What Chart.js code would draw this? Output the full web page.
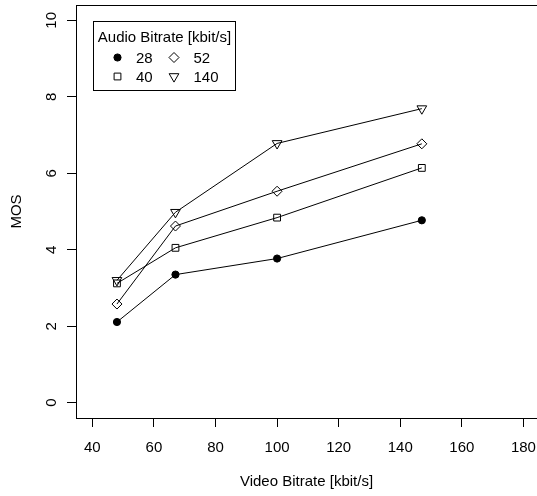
<!DOCTYPE html>
<html>
<head>
<meta charset="utf-8">
<script src="https://cdn.jsdelivr.net/npm/chart.js@4/dist/chart.umd.min.js"></script>
<style>
  html, body { margin: 0; padding: 0; background: #fff; overflow: hidden; }
  #c { display: block; }
</style>
</head>
<body>
<canvas id="c" width="537" height="496"></canvas>
<script>
// ---- data ----
const videoBitrate = [48, 67, 100, 147];
const mos28  = [2.11, 3.35, 3.77, 4.77];
const mos40  = [3.12, 4.05, 4.84, 6.14];
const mos52  = [2.58, 4.62, 5.53, 6.77];
const mos140 = [3.20, 4.98, 6.78, 7.69];
const audioLabels = ['28', '40', '52', '140'];
const xTickValues = [40, 60, 80, 100, 120, 140, 160, 180];
const yTickValues = [0, 2, 4, 6, 8, 10];
const legendTitle = 'Audio Bitrate [kbit/s]';
const xTitle = 'Video Bitrate [kbit/s]';
const yTitle = 'MOS';

const FONT = '"Liberation Sans", Arial, Helvetica, sans-serif';
const seriesValues = [mos28, mos40, mos52, mos140];
const styles = [
  { pointStyle: 'circle',  radius: 3.6, rotation: 0,   fill: '#000' },
  { pointStyle: 'rect',    radius: 4.8, rotation: 0,   fill: 'rgba(0,0,0,0)' },
  { pointStyle: 'rectRot', radius: 5.0, rotation: 0,   fill: 'rgba(0,0,0,0)' },
  { pointStyle: 'triangle',radius: 5.6, rotation: 180, fill: 'rgba(0,0,0,0)' }
];

const datasets = seriesValues.map((vals, i) => ({
  label: audioLabels[i],
  data: vals.map((v, j) => ({ x: videoBitrate[j], y: v })),
  borderColor: '#000',
  borderWidth: 1,
  tension: 0,
  pointStyle: styles[i].pointStyle,
  pointRadius: styles[i].radius,
  pointRotation: styles[i].rotation,
  pointBackgroundColor: styles[i].fill,
  pointBorderColor: '#000',
  pointBorderWidth: 1,
  fill: false,
  clip: false
}));

function drawMarker(ctx, st, x, y) {
  ctx.save();
  ctx.fillStyle = st.fill;
  ctx.strokeStyle = '#000';
  ctx.lineWidth = 1;
  if (Chart.helpers && Chart.helpers.drawPoint) {
    Chart.helpers.drawPoint(ctx, { pointStyle: st.pointStyle, radius: st.radius, rotation: st.rotation, borderWidth: 1 }, x, y);
  }
  ctx.restore();
}

const framePlugin = {
  id: 'frameTop',
  afterDraw(chart) {
    const { ctx, chartArea } = chart;
    ctx.save();
    ctx.strokeStyle = '#000';
    ctx.lineWidth = 1;
    const y = Math.round(chartArea.top) + 0.5;
    ctx.beginPath();
    ctx.moveTo(Math.round(chartArea.left) + 0.5, y);
    ctx.lineTo(chartArea.right + 2, y);
    ctx.stroke();
    ctx.restore();
  }
};

const legendPlugin = {
  id: 'rLegend',
  afterDraw(chart) {
    const { ctx, chartArea } = chart;
    const x0 = Math.round(chartArea.left + 16.5) + 0.5;
    const y0 = Math.round(chartArea.top + 16) + 0.5;
    const w = 142, h = 69;
    ctx.save();
    ctx.fillStyle = '#fff';
    ctx.fillRect(x0, y0, w, h);
    ctx.strokeStyle = '#000';
    ctx.lineWidth = 1;
    ctx.strokeRect(x0, y0, w, h);
    ctx.fillStyle = '#000';
    ctx.font = '15px ' + FONT;
    ctx.textAlign = 'center';
    ctx.textBaseline = 'middle';
    ctx.fillText(legendTitle, x0 + w / 2, y0 + 16);
    ctx.textAlign = 'left';
    const colMarker = [24, 80.5];
    const colText = [42.5, 100];
    const rowY = [36, 55];
    chart.data.datasets.forEach((ds, i) => {
      const col = Math.floor(i / 2), row = i % 2;
      drawMarker(ctx, styles[i], x0 + colMarker[col], y0 + rowY[row]);
      ctx.fillStyle = '#000';
      ctx.fillText(ds.label, x0 + colText[col], y0 + rowY[row] + 1);
    });
    ctx.restore();
  }
};

new Chart(document.getElementById('c'), {
  type: 'line',
  data: { datasets },
  options: {
    responsive: false,
    animation: false,
    devicePixelRatio: 1,
    layout: { autoPadding: false, padding: { top: 5, left: 0, right: 0, bottom: 0 } },
    plugins: { legend: { display: false }, tooltip: { enabled: false } },
    scales: {
      x: {
        type: 'linear',
        min: 34.7,
        max: 184.4,
        afterBuildTicks: s => { s.ticks = xTickValues.map(v => ({ value: v })); },
        afterFit: s => { s.height = 78; s.paddingLeft = 0; s.paddingRight = 0; },
        grid: { drawOnChartArea: false, drawTicks: true, tickLength: 9, color: '#000', lineWidth: 1 },
        border: { display: true, color: '#000', width: 1 },
        ticks: { autoSkip: false, color: '#000', padding: 12, maxRotation: 0, font: { family: FONT, size: 15 } },
        title: { display: true, text: xTitle, color: '#000', font: { family: FONT, size: 15 }, padding: { top: 0, bottom: 5 } }
      },
      y: {
        type: 'linear',
        min: -0.4,
        max: 10.4,
        afterBuildTicks: s => { s.ticks = yTickValues.map(v => ({ value: v })); },
        afterFit: s => { s.width = 76; s.paddingTop = 0; s.paddingBottom = 0; },
        grid: { drawOnChartArea: false, drawTicks: true, tickLength: 9, color: '#000', lineWidth: 1 },
        border: { display: true, color: '#000', width: 1 },
        ticks: { autoSkip: false, color: '#000', padding: 7, minRotation: 90, maxRotation: 90, crossAlign: 'center', font: { family: FONT, size: 15 } },
        title: { display: true, text: yTitle, color: '#000', font: { family: FONT, size: 15 }, padding: { top: 8, bottom: 0 } }
      }
    }
  },
  plugins: [framePlugin, legendPlugin]
});
</script>
</body>
</html>
